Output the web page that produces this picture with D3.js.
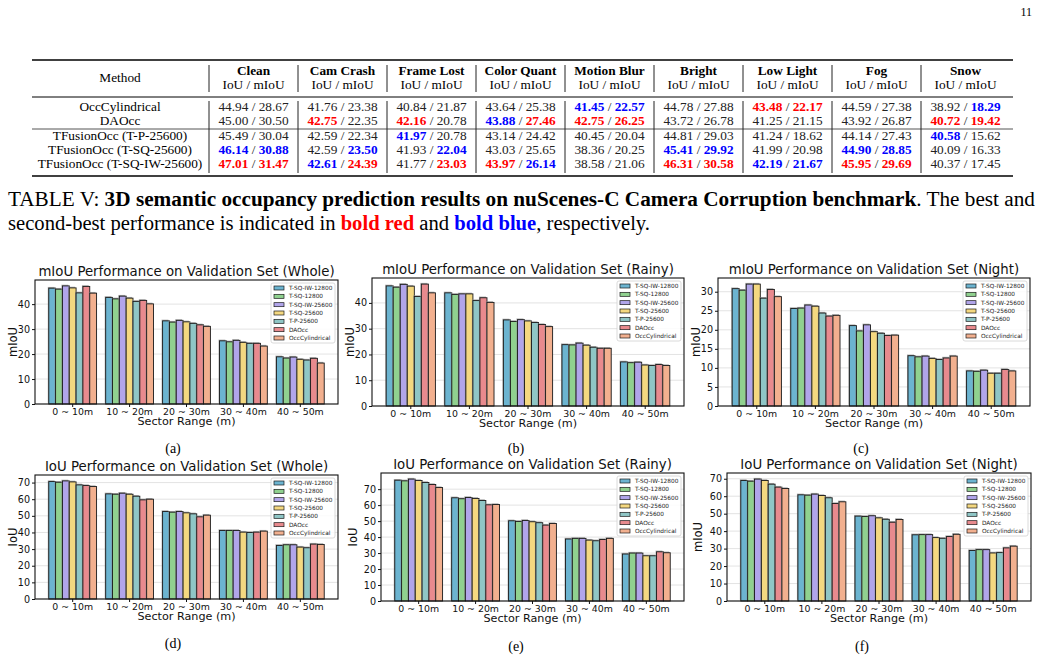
<!DOCTYPE html>
<html>
<head>
<meta charset="utf-8">
<title>TFusionOcc results</title>
<script src="https://cdn.jsdelivr.net/npm/d3@7/dist/d3.min.js"></script>
<style>
  body { margin: 0; background: #fff; }
  svg { display: block; }
</style>
</head>
<body>
<svg id="page" width="1041" height="659"></svg>
<script>
// ---------- table data ----------
var methods = ["OccCylindrical", "DAOcc", "TFusionOcc (T-P-25600)", "TFusionOcc (T-SQ-25600)", "TFusionOcc (T-SQ-IW-25600)"];
var corruptions = ["Clean", "Cam Crash", "Frame Lost", "Color Quant", "Motion Blur", "Bright", "Low Light", "Fog", "Snow"];
var tableIoU = [
  [44.94, 41.76, 40.84, 43.64, 41.45, 44.78, 43.48, 44.59, 38.92],
  [45.00, 42.75, 42.16, 43.88, 42.75, 43.72, 41.25, 43.92, 40.72],
  [45.49, 42.59, 41.97, 43.14, 40.45, 44.81, 41.24, 44.14, 40.58],
  [46.14, 42.59, 41.93, 43.03, 38.36, 45.41, 41.99, 44.90, 40.09],
  [47.01, 42.61, 41.77, 43.97, 38.58, 46.31, 42.19, 45.95, 40.37]
];
var tableMIoU = [
  [28.67, 23.38, 21.87, 25.38, 22.57, 27.88, 22.17, 27.38, 18.29],
  [30.50, 22.35, 20.78, 27.46, 26.25, 26.78, 21.15, 26.87, 19.42],
  [30.04, 22.34, 20.78, 24.42, 20.04, 29.03, 18.62, 27.43, 15.62],
  [30.88, 23.50, 22.04, 25.65, 20.25, 29.92, 20.98, 28.85, 16.33],
  [31.47, 24.39, 23.03, 26.14, 21.06, 30.58, 21.67, 29.69, 17.45]
];

// ---------- chart data ----------
var seriesNames = ["T-SQ-IW-12800", "T-SQ-12800", "T-SQ-IW-25600", "T-SQ-25600", "T-P-25600", "DAOcc", "OccCylindrical"];
var ranges = ["0 ~ 10m", "10 ~ 20m", "20 ~ 30m", "30 ~ 40m", "40 ~ 50m"];

var miouWhole = [
  [46.4, 42.7, 33.3, 25.3, 18.9],
  [46.0, 42.1, 32.8, 24.9, 18.4],
  [47.3, 43.2, 33.5, 25.5, 18.8],
  [46.5, 42.4, 32.9, 24.7, 17.9],
  [44.5, 41.1, 32.3, 24.3, 17.6],
  [47.1, 41.5, 31.7, 24.3, 18.3],
  [44.4, 40.1, 31.1, 23.2, 16.4]
];
var miouRainy = [
  [46.6, 43.9, 33.4, 23.8, 17.1],
  [46.1, 43.3, 32.8, 23.7, 16.8],
  [47.2, 43.5, 33.5, 24.4, 17.0],
  [46.5, 43.5, 33.0, 23.6, 15.9],
  [42.5, 40.9, 32.4, 22.8, 15.7],
  [47.3, 42.0, 31.6, 22.4, 16.1],
  [43.9, 40.2, 30.8, 22.4, 15.7]
];
var miouNight = [
  [30.8, 25.6, 21.1, 13.2, 9.2],
  [30.4, 25.7, 19.7, 12.9, 9.1],
  [32.0, 26.5, 21.3, 13.1, 9.4],
  [32.0, 26.2, 19.5, 12.5, 8.6],
  [28.3, 24.4, 19.1, 12.2, 8.6],
  [30.6, 23.6, 18.5, 12.6, 9.6],
  [28.7, 23.8, 18.6, 13.1, 9.2]
];
var iouWhole = [
  [70.6, 63.2, 52.6, 41.2, 32.2],
  [70.2, 63.0, 52.2, 41.2, 32.6],
  [71.0, 63.6, 52.6, 41.2, 32.6],
  [70.4, 63.0, 51.8, 40.2, 31.2],
  [68.6, 61.8, 51.2, 40.0, 30.8],
  [68.2, 59.6, 49.4, 40.2, 33.0],
  [67.6, 60.0, 50.4, 40.8, 32.8]
];
var iouRainy = [
  [75.6, 64.6, 50.2, 38.8, 29.4],
  [75.2, 64.0, 49.8, 39.2, 30.0],
  [76.3, 64.8, 50.4, 39.2, 30.0],
  [75.4, 64.2, 49.6, 38.1, 28.3],
  [74.2, 62.9, 49.0, 37.7, 28.3],
  [72.9, 60.2, 47.5, 38.5, 30.8],
  [71.0, 60.4, 48.5, 39.2, 30.2]
];
var iouNight = [
  [69.0, 60.8, 48.6, 37.9, 28.9],
  [68.6, 60.6, 48.4, 38.0, 29.4],
  [69.8, 61.2, 48.8, 38.0, 29.4],
  [69.0, 60.4, 47.6, 36.3, 27.5],
  [66.9, 59.1, 46.8, 35.9, 27.7],
  [65.2, 55.8, 45.1, 36.9, 30.4],
  [64.4, 56.8, 46.7, 38.2, 31.4]
];

var ticksMIoU = [0, 10, 20, 30, 40];
var ticksNight = [0, 5, 10, 15, 20, 25, 30];
var ticksIoU = [0, 10, 20, 30, 40, 50, 60, 70];

var colors = ["#6cb4d0", "#90d18f", "#b1a5ea", "#f4d880", "#8fc6c6", "#e88a8e", "#f2b08f"];

var svg = d3.select("#page");
var serif = "'Liberation Serif', 'Times New Roman', serif";
var sans = "'DejaVu Sans', sans-serif";

// page number
svg.append("text").attr("x", 1032).attr("y", 16).attr("text-anchor", "end")
  .style("font-family", serif).style("font-size", "12px").text("11");

// ---------- table ----------
var tLeft = 32, tRight = 1013;
var methodX = 120;
var colX = d3.scaleBand().domain(corruptions).range([209, 1010]);
var rowY = d3.scalePoint().domain(methods).range([111, 168]);

svg.append("line").attr("x1", tLeft).attr("x2", tRight).attr("y1", 60).attr("y2", 60)
  .attr("stroke", "#000").attr("stroke-width", 1.3);
svg.append("line").attr("x1", tLeft).attr("x2", tRight).attr("y1", 97).attr("y2", 97)
  .attr("stroke", "#000").attr("stroke-width", 1);
svg.append("line").attr("x1", tLeft).attr("x2", tRight).attr("y1", 129).attr("y2", 129)
  .attr("stroke", "#555").attr("stroke-width", 1);
svg.append("line").attr("x1", tLeft).attr("x2", tRight).attr("y1", 176).attr("y2", 176)
  .attr("stroke", "#000").attr("stroke-width", 1.3);

// vertical separators
var seps = [209].concat(corruptions.slice(0, -1).map(function(c) { return colX(c) + colX.bandwidth(); }));
seps.forEach(function(x) {
  svg.append("line").attr("x1", x).attr("x2", x).attr("y1", 65).attr("y2", 92).attr("stroke", "#222");
  svg.append("line").attr("x1", x).attr("x2", x).attr("y1", 101).attr("y2", 173).attr("stroke", "#222");
});

svg.append("text").attr("x", methodX).attr("y", 82).attr("text-anchor", "middle")
  .style("font-family", serif).style("font-size", "13.3px").text("Method");

corruptions.forEach(function(c) {
  var cx = colX(c) + colX.bandwidth() / 2;
  svg.append("text").attr("x", cx).attr("y", 75).attr("text-anchor", "middle")
    .style("font-family", serif).style("font-size", "13.3px").style("font-weight", "bold").text(c);
  svg.append("text").attr("x", cx).attr("y", 89).attr("text-anchor", "middle")
    .style("font-family", serif).style("font-size", "13.3px").text("IoU / mIoU");
});

// best = red, second = blue, per column
function rankColor(table, r, c) {
  var col = table.map(function(row) { return row[c]; });
  var sorted = col.slice().sort(function(a, b) { return b - a; });
  if (table[r][c] === sorted[0]) return "#ff0000";
  if (table[r][c] === sorted[1]) return "#0000ff";
  return null;
}

methods.forEach(function(m, r) {
  var y = rowY(m);
  svg.append("text").attr("x", methodX).attr("y", y).attr("text-anchor", "middle")
    .style("font-family", serif).style("font-size", "13.3px").text(m);
  corruptions.forEach(function(c, ci) {
    var cx = colX(c) + colX.bandwidth() / 2;
    var t = svg.append("text").attr("x", cx).attr("y", y).attr("text-anchor", "middle")
      .style("font-family", serif).style("font-size", "13.3px").attr("fill", "#222");
    var c1 = rankColor(tableIoU, r, ci), c2 = rankColor(tableMIoU, r, ci);
    t.append("tspan").text(tableIoU[r][ci].toFixed(2))
      .attr("fill", c1 || "#222").style("font-weight", c1 ? "bold" : "normal");
    t.append("tspan").text(" / ");
    t.append("tspan").text(tableMIoU[r][ci].toFixed(2))
      .attr("fill", c2 || "#222").style("font-weight", c2 ? "bold" : "normal");
  });
});

// ---------- caption ----------
var cap1 = svg.append("text").attr("x", 8).attr("y", 206).attr("textLength", 1027).attr("lengthAdjust", "spacingAndGlyphs")
  .style("font-family", serif).style("font-size", "20px");
cap1.append("tspan").text("TABLE V: ");
cap1.append("tspan").style("font-weight", "bold").text("3D semantic occupancy prediction results on nuScenes-C Camera Corruption benchmark");
cap1.append("tspan").text(". The best and");

var cap2 = svg.append("text").attr("x", 8).attr("y", 230).attr("textLength", 642).attr("lengthAdjust", "spacingAndGlyphs")
  .style("font-family", serif).style("font-size", "20px");
cap2.append("tspan").text("second-best performance is indicated in ");
cap2.append("tspan").style("font-weight", "bold").attr("fill", "#ff0000").text("bold red");
cap2.append("tspan").text(" and ");
cap2.append("tspan").style("font-weight", "bold").attr("fill", "#0000ff").text("bold blue");
cap2.append("tspan").text(", respectively.");

// ---------- bar charts ----------
var panels = [
  { data: miouWhole, ticks: ticksMIoU, title: "mIoU Performance on Validation Set (Whole)", ylab: "mIoU", sub: "(a)", L: 35, R: 338, T: 280, B: 404, yl: 15, sx: 173, sy: 453 },
  { data: miouRainy, ticks: ticksMIoU, title: "mIoU Performance on Validation Set (Rainy)", ylab: "mIoU", sub: "(b)", L: 372, R: 684, T: 278, B: 406, yl: 353, sx: 516, sy: 453 },
  { data: miouNight, ticks: ticksNight, title: "mIoU Performance on Validation Set (Night)", ylab: "mIoU", sub: "(c)", L: 718, R: 1030, T: 278, B: 406, yl: 698, sx: 861, sy: 453 },
  { data: iouWhole, ticks: ticksIoU, title: "IoU Performance on Validation Set (Whole)", ylab: "IoU", sub: "(d)", L: 35, R: 338, T: 475, B: 599, yl: 15, sx: 173, sy: 648 },
  { data: iouRainy, ticks: ticksIoU, title: "IoU Performance on Validation Set (Rainy)", ylab: "IoU", sub: "(e)", L: 381, R: 684, T: 473, B: 601, yl: 353, sx: 516, sy: 651 },
  { data: iouNight, ticks: ticksIoU, title: "IoU Performance on Validation Set (Night)", ylab: "mIoU", sub: "(f)", L: 727, R: 1031, T: 473, B: 601, yl: 698, sx: 862, sy: 651 }
];

panels.forEach(function(p) {
  var g = svg.append("g");
  var maxV = d3.max(p.data, function(s) { return d3.max(s); });

  var x = d3.scaleBand().domain(ranges).range([p.L, p.R]).paddingInner(0.16).paddingOuter(0.242);
  var xs = d3.scaleBand().domain(seriesNames).range([0, x.bandwidth()]);
  var y = d3.scaleLinear().domain([0, maxV * 1.05]).range([p.B, p.T]);

  // grid
  g.append("g").selectAll("line").data(p.ticks).enter().append("line")
    .attr("x1", p.L).attr("x2", p.R)
    .attr("y1", function(d) { return y(d); }).attr("y2", function(d) { return y(d); })
    .attr("stroke", "#dcdcdc").attr("stroke-width", 0.8);

  // bars
  seriesNames.forEach(function(s, si) {
    var sg = g.append("g");
    sg.selectAll("rect.sh").data(p.data[si]).enter().append("rect").attr("class", "sh")
      .attr("x", function(d, i) { return x(ranges[i]) + xs(s) - 1; })
      .attr("y", function(d) { return y(d) - 1.2; })
      .attr("width", xs.bandwidth())
      .attr("height", function(d) { return p.B - y(d); })
      .attr("fill", "#8a8a8a").attr("opacity", 0.7);
    sg.selectAll("rect.bar").data(p.data[si]).enter().append("rect").attr("class", "bar")
      .attr("x", function(d, i) { return x(ranges[i]) + xs(s); })
      .attr("y", function(d) { return y(d); })
      .attr("width", xs.bandwidth())
      .attr("height", function(d) { return p.B - y(d); })
      .attr("fill", colors[si]).attr("stroke", "#1a1a1a").attr("stroke-width", 0.9);
  });

  // axes
  var ya = g.append("g").attr("transform", "translate(" + p.L + ",0)")
    .call(d3.axisLeft(y).tickValues(p.ticks).tickSize(3).tickPadding(2));
  var xa = g.append("g").attr("transform", "translate(0," + p.B + ")")
    .call(d3.axisBottom(x).tickSize(3).tickPadding(1));
  [ya, xa].forEach(function(a) {
    a.select(".domain").remove();
    a.selectAll("line").attr("stroke", "#111");
  });
  ya.selectAll("text").style("font-family", sans).style("font-size", "9.6px").attr("fill", "#111");
  xa.selectAll("text").style("font-family", sans).style("font-size", "9.4px").attr("fill", "#111");

  // frame
  g.append("rect").attr("x", p.L).attr("y", p.T).attr("width", p.R - p.L).attr("height", p.B - p.T)
    .attr("fill", "none").attr("stroke", "#111").attr("stroke-width", 1.1);

  // title, labels
  g.append("text").attr("x", (p.L + p.R) / 2).attr("y", p.T - 4).attr("text-anchor", "middle")
    .style("font-family", sans).style("font-size", "13.3px").attr("fill", "#111").text(p.title);
  g.append("text").attr("x", (p.L + p.R) / 2).attr("y", p.B + 21).attr("text-anchor", "middle")
    .style("font-family", sans).style("font-size", "11.2px").attr("fill", "#111").text("Sector Range (m)");

  // keep the y label just clear of the tick labels
  var tickLeft = ya.node().getBBox().x + p.L;
  var ylx = Math.min(p.yl + 4, tickLeft - 1);
  g.append("text").attr("transform", "translate(" + ylx + "," + ((p.T + p.B) / 2) + ") rotate(-90)")
    .attr("text-anchor", "middle")
    .style("font-family", sans).style("font-size", "11.5px").attr("fill", "#111").text(p.ylab);
  svg.append("text").attr("x", p.sx).attr("y", p.sy).attr("text-anchor", "middle")
    .style("font-family", serif).style("font-size", "14px").text(p.sub);

  // legend
  var lw = 64, lh = 60, lx = p.R - lw - 3, ly = p.T + 3;
  var lg = g.append("g").attr("transform", "translate(" + lx + "," + ly + ")");
  lg.append("rect").attr("width", lw).attr("height", lh).attr("rx", 2)
    .attr("fill", "#fff").attr("fill-opacity", 0.85).attr("stroke", "#d0d0d0").attr("stroke-width", 0.8);
  var ls = d3.scalePoint().domain(seriesNames).range([5, lh - 5]);
  seriesNames.forEach(function(s, si) {
    lg.append("rect").attr("x", 3).attr("y", ls(s) - 2).attr("width", 10).attr("height", 4)
      .attr("fill", colors[si]).attr("stroke", "#1a1a1a").attr("stroke-width", 0.7);
    lg.append("text").attr("x", 18).attr("y", ls(s) + 2).style("font-family", sans)
      .style("font-size", "5.8px").attr("fill", "#222").text(s);
  });
});
</script>
</body>
</html>
